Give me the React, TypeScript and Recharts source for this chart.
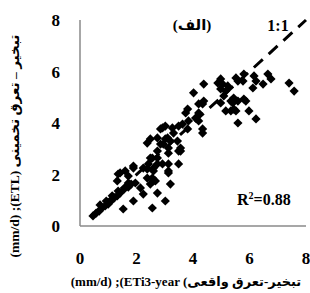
import React from "react";
import { ScatterChart, Scatter, XAxis, YAxis, ReferenceLine } from "recharts";

// actual ET (ETi 3-year), mm/d
const etActual = [
  0.46, 0.57, 0.68, 0.78, 0.89, 1.0, 1.1, 1.21, 1.32, 1.42, 0.71, 0.93, 1.14, 1.35, 1.57, 1.71, 1.81, 1.96,
  1.32, 1.71, 1.35, 1.6, 1.89, 2.38, 2.56, 2.74, 1.53, 1.89, 2.24, 2.56, 2.14, 2.49, 2.38, 2.74, 2.67, 2.6,
  3.2, 3.02, 2.92, 3.49, 3.13, 2.6, 2.74, 3.13, 3.49, 3.2, 2.95, 2.74, 2.85, 2.49, 2.38, 3.02, 3.49, 3.74,
  2.85, 3.13, 2.74, 3.56, 2.49, 2.42, 2.24, 1.89, 1.42, 1.71, 3.13, 3.13, 2.6, 2.56, 3.02, 3.31, 3.1, 2.92,
  3.27, 3.45, 3.56, 3.63, 3.81, 3.84, 4.09, 4.2, 3.81, 4.34, 4.34, 4.2, 4.02, 4.38, 4.2, 4.38, 4.88, 4.98,
  4.98, 5.23, 5.09, 4.98, 5.41, 5.34, 5.16, 5.16, 5.34, 5.59, 5.52, 5.87, 5.98, 6.23, 5.59, 5.52, 5.59, 5.77,
  5.8, 6.16, 6.23, 6.48, 6.65, 6.76, 6.12, 5.05, 5.44, 5.8, 5.44, 7.4, 7.58, 4.34,
];

// estimated ET (ETL), mm/d
const etEstimated = [
  0.39, 0.5, 0.58, 0.7, 0.78, 0.85, 0.97, 1.09, 1.17, 1.28, 0.82, 0.97, 1.17, 1.36, 1.44, 1.51, 1.63, 1.67,
  1.75, 1.67, 2.02, 2.14, 2.33, 2.21, 2.64, 2.41, 0.66, 0.97, 1.24, 0.7, 1.48, 1.63, 1.86, 1.28, 1.75, 1.75,
  1.63, 0.97, 2.41, 2.41, 2.06, 2.25, 2.64, 2.83, 2.91, 3.3, 3.18, 3.42, 3.77, 3.38, 3.22, 3.38, 3.88, 4.39,
  3.18, 3.03, 2.91, 2.91, 2.64, 2.41, 2.25, 2.25, 2.06, 1.94, 2.41, 2.14, 2.14, 1.86, 3.88, 3.61, 3.42, 3.81,
  3.81, 3.3, 3.03, 3.96, 3.77, 4.08, 4.19, 4.39, 4.54, 4.74, 3.77, 4.08, 5.17, 5.51, 4.74, 4.85, 5.55, 5.71,
  5.32, 5.44, 5.05, 4.78, 4.78, 4.47, 4.47, 5.24, 4.85, 4.85, 4.47, 4.85, 4.47, 4.16, 4.0, 5.75, 5.63, 5.63,
  5.9, 5.83, 5.63, 5.51, 5.9, 5.71, 5.36, 5.51, 4.97, 4.93, 4.54, 5.55, 5.24, 3.61,
];

const xTicks = [0, 2, 4, 6, 8];
const yTicks = [0, 2, 4, 6, 8];

const points = etActual.map((x, i) => ({ x, y: etEstimated[i] }));

const serif = "'Liberation Serif', 'DejaVu Sans', serif";
const axisStyle = { stroke: "#8a8a8a", strokeWidth: 1.5 };

const XTick = (props: any) => {
  const { x, y, payload } = props;
  return (
    <text x={x} y={y + 30} textAnchor="middle" fontFamily={serif} fontWeight={700} fontSize={17} fill="#000">
      {payload.value}
    </text>
  );
};

const YTick = (props: any) => {
  const { x, y, payload } = props;
  return (
    <text x={60} y={y + 6} textAnchor="end" fontFamily={serif} fontWeight={700} fontSize={17} fill="#000">
      {payload.value}
    </text>
  );
};

const Diamond = (props: any) => {
  const { cx, cy } = props;
  const r = 4.6;
  return (
    <polygon
      points={`${cx},${cy - r} ${cx + r},${cy} ${cx},${cy + r} ${cx - r},${cy}`}
      fill="#000"
    />
  );
};

export default function App() {
  return (
    <div style={{ position: "absolute", left: 0, top: 0, width: 310, height: 293, background: "#fff" }}>
      <ScatterChart width={310} height={293} margin={{ top: 20, right: 4, bottom: 27, left: 30 }}>
        <XAxis
          type="number"
          dataKey="x"
          domain={[0, 8]}
          ticks={xTicks}
          tickLine={false}
          axisLine={axisStyle}
          tick={<XTick />}
          height={40}
        />
        <YAxis
          type="number"
          dataKey="y"
          domain={[0, 8]}
          ticks={yTicks}
          tickLine={false}
          axisLine={axisStyle}
          tick={<YTick />}
          width={50}
        />
        <ReferenceLine
          segment={[
            { x: 0.4, y: 0.4 },
            { x: 8, y: 8 },
          ]}
          stroke="#000"
          strokeWidth={3}
          strokeDasharray="12 8"
          ifOverflow="visible"
        />
        <Scatter data={points} shape={Diamond} isAnimationActive={false} />
      </ScatterChart>
      <svg
        width={310}
        height={293}
        style={{ position: "absolute", left: 0, top: 0, pointerEvents: "none" }}
      >
        <g fontFamily={serif} fontWeight={700} fill="#000">
          <text x={192} y={30} fontSize={15} textAnchor="middle">
            (الف)
          </text>
          <text x={278} y={31} fontSize={16} fontWeight={700} textAnchor="middle">
            1:1
          </text>
          <text x={237} y={205} fontSize={16}>
            R<tspan fontSize={10} dy={-6}>2</tspan>
            <tspan dy={6}>=0.88</tspan>
          </text>
          <text x={186} y={286} fontSize={13} textAnchor="middle">
            (mm/d) ;(ETi3-year (تبخیر-تعرق واقعی
          </text>
          <text x={0} y={0} fontSize={13.5} textAnchor="middle" transform="translate(19,146) rotate(-90)">
            (mm/d) ;(ETL) تبخیر – تعرق تخمینی
          </text>
        </g>
      </svg>
    </div>
  );
}
